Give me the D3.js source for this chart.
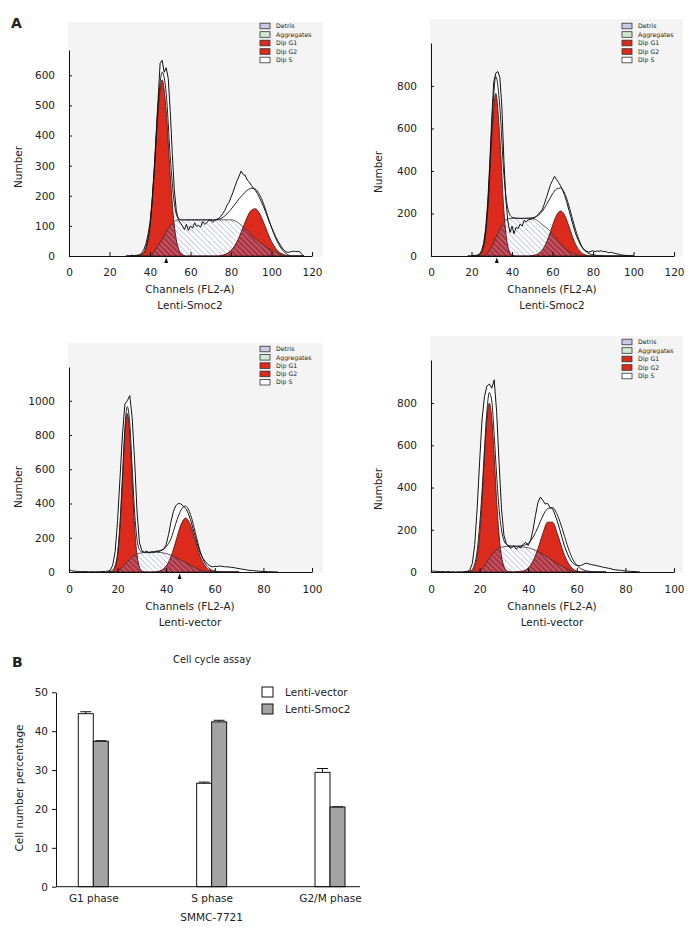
<!DOCTYPE html>
<html><head><meta charset="utf-8">
<script src="https://cdn.jsdelivr.net/npm/d3@7"></script>
<style>
body{margin:0;background:#fff}
svg{display:block}
text{font-family:"DejaVu Sans",Verdana,sans-serif;fill:#222}
</style>
</head><body>
<svg id="c" width="700" height="935"></svg>
<script>
// ---------------- DATA ----------------
const legendNames = ["Detris","Aggregates","Dip G1","Dip G2","Dip S"];
const xTicks120 = [0,20,40,60,80,100,120];
const xTicks100 = [0,20,40,60,80,100];
const p1YTicks = [0,100,200,300,400,500,600];
const p2YTicks = [0,200,400,600,800];
const p3YTicks = [0,200,400,600,800,1000];
const p4YTicks = [0,200,400,600,800];
const subLabels = ["Lenti-Smoc2","Lenti-Smoc2","Lenti-vector","Lenti-vector"];
const markerCh = [48, 32.5, 45.5, null];

// Panel 1 (top-left)
const p1Ch  = [30,32,34,36,38,40,42,44,46,48,50,52,54,56,58,60,62,64,66,68,70,72,74,76,78,80,82,84,86,88,90,92,94,96,98,100,102,104,106,108,110,112,114,116];
const p1G1  = [0,0,0,5,26,101,268,481,585,481,268,101,26,5,0,0,0,0,0,0,0,0,0,0,0,0,0,0,0,0,0,0,0,0,0,0,0,0,0,0,0,0,0,0];
const p1G2  = [0,0,0,0,0,0,0,0,0,0,0,0,0,0,0,0,0,0,0,0,0,0,0,3,8,18,36,62,96,129,152,157,143,113,79,48,26,12,5,1,0,0,0,0];
const p1S   = [0,0,0,0,0,0,15,35,55,80,100,115,120,120,120,120,120,120,120,120,120,120,120,120,120,120,117,108,96,85,70,58,46,36,27,19,12,6,2,0,0,0,0,0];
const p1Fit = [0,0,0,5,28,100,275,500,610,540,330,175,125,120,120,120,120,120,120,120,120,120,122,128,140,155,172,190,205,218,225,222,205,175,135,95,60,33,15,5,0,0,0,0];
const p1Data = [[28,0],[29,2],[30,0],[31,3],[32,0],[33,2],[34,3],[35,5],[36,10],[37,22],[38,40],[39,70],[40,110],[41,180],[42,280],[43,400],[44,520],[45,640],[46,650],[47,610],[48,625],[49,590],[50,480],[51,340],[52,220],[53,150],[54,120],[55,110],[56,100],[57,88],[58,105],[59,85],[60,100],[61,92],[62,110],[63,98],[64,102],[65,96],[66,115],[67,105],[68,110],[69,118],[70,120],[71,112],[72,118],[73,122],[74,125],[75,132],[76,142],[77,152],[78,168],[79,178],[80,195],[81,212],[82,232],[83,250],[84,265],[85,282],[86,270],[87,268],[88,252],[89,246],[90,235],[91,226],[92,218],[93,208],[94,195],[95,180],[96,165],[97,148],[98,130],[99,112],[100,95],[101,80],[102,65],[103,52],[104,40],[105,30],[106,20],[107,15],[108,12],[109,13],[110,15],[111,16],[112,15],[113,15],[114,14],[115,5],[116,0]];

// Panel 2 (top-right)
const p2Ch  = [20,22,24,26,28,30,32,34,36,38,40,42,44,46,48,50,52,54,56,58,60,62,64,66,68,70,72,74,76,78,80,82,84,86,88,90,92,94,96,98,100];
const p2G1  = [0,0,5,43,213,555,765,555,213,43,5,0,0,0,0,0,0,0,0,0,0,0,0,0,0,0,0,0,0,0,0,0,0,0,0,0,0,0,0,0,0];
const p2G2  = [0,0,0,0,0,0,0,0,0,0,0,0,0,0,0,2,6,18,44,87,143,192,212,192,143,87,44,18,6,2,0,0,0,0,0,0,0,0,0,0,0];
const p2S   = [0,0,0,0,15,45,85,125,160,175,177,177,177,177,177,176,170,155,140,125,105,80,58,38,22,12,5,1,0,0,0,0,0,0,0,0,0,0,0,0,0];
const p2Fit = [0,0,5,50,230,600,845,700,380,220,182,178,177,177,178,180,185,200,225,258,292,315,320,295,240,170,105,55,25,12,6,3,2,0,0,0,0,0,0,0,0];
const p2Data = [[18,0],[19,2],[20,0],[21,3],[22,2],[23,5],[24,10],[25,25],[26,60],[27,130],[28,250],[29,430],[30,650],[31,820],[32,860],[33,868],[34,840],[35,700],[36,450],[37,260],[38,160],[39,110],[40,140],[41,105],[42,135],[43,128],[44,150],[45,140],[46,168],[47,160],[48,170],[49,172],[50,175],[51,178],[52,188],[53,195],[54,208],[55,220],[56,245],[57,275],[58,305],[59,335],[60,355],[61,375],[62,360],[63,345],[64,330],[65,310],[66,285],[67,255],[68,220],[69,185],[70,150],[71,118],[72,90],[73,68],[74,50],[75,35],[76,28],[77,22],[78,18],[79,22],[80,25],[81,20],[82,24],[83,22],[84,25],[85,20],[86,22],[87,18],[88,15],[89,18],[90,14],[91,12],[92,10],[93,8],[94,5],[95,4],[96,3],[98,1],[100,0]];

// Panel 3 (bottom-left)
const p3Ch  = [16,17,18,19,20,21,22,23,24,25,26,27,28,29,30,31,32,34,36,38,40,42,44,46,48,50,52,54,56,58,60,62,64,66,68,70];
const p3G1  = [0,1,6,29,100,265,531,805,925,805,531,265,100,29,6,1,0,0,0,0,0,0,0,0,0,0,0,0,0,0,0,0,0,0,0,0];
const p3G2  = [0,0,0,0,0,0,0,0,0,0,0,0,0,0,0,0,0,0,2,10,35,91,181,274,315,274,181,91,35,10,2,0,0,0,0,0];
const p3S   = [0,0,0,0,5,15,30,45,60,75,88,98,105,110,112,113,114,115,115,113,108,98,85,70,55,40,25,12,4,0,0,0,0,0,0,0];
const p3Fit = [0,3,12,38,110,290,560,840,965,870,610,350,190,130,118,115,115,116,120,128,148,195,285,360,385,335,230,120,50,18,6,2,0,0,0,0];
const p3Data = [[0,15],[1,8],[2,5],[3,4],[4,3],[5,2],[6,3],[7,2],[8,2],[9,1],[10,2],[11,1],[12,2],[13,2],[14,3],[15,3],[16,5],[17,10],[18,40],[19,120],[20,300],[21,550],[22,800],[23,980],[24,1000],[25,1030],[26,900],[27,650],[28,350],[29,170],[30,125],[31,115],[32,122],[33,110],[34,118],[35,115],[36,122],[37,120],[38,126],[39,132],[40,160],[41,220],[42,295],[43,355],[44,388],[45,400],[46,398],[47,385],[48,372],[49,345],[50,305],[51,255],[52,205],[53,155],[54,112],[55,82],[56,62],[57,46],[58,36],[59,30],[60,33],[61,32],[62,35],[63,33],[64,30],[65,31],[66,28],[67,27],[68,25],[69,22],[70,20],[71,17],[72,15],[73,12],[74,10],[75,9],[76,8],[77,6],[78,5],[79,4],[80,3],[82,2],[84,1],[86,0]];

// Panel 4 (bottom-right)
const p4Ch  = [14,15,16,17,18,19,20,21,22,23,24,25,26,27,28,29,30,31,32,34,36,38,40,42,44,46,48,50,52,54,56,58,60,62,64,66,68,70,72];
const p4G1  = [0,0,2,8,27,75,177,342,549,728,800,728,549,342,177,75,27,8,2,0,0,0,0,0,0,0,0,0,0,0,0,0,0,0,0,0,0,0,0];
const p4G2  = [0,0,0,0,0,0,0,0,0,0,0,0,0,0,0,0,0,0,0,0,2,5,19,52,110,182,236,236,182,110,52,19,5,1,0,0,0,0,0];
const p4S   = [0,0,0,0,0,0,5,15,30,48,65,80,95,106,115,118,120,121,121,121,120,118,115,108,98,85,70,55,40,26,14,5,0,0,0,0,0,0,0];
const p4Fit = [0,1,4,12,40,100,220,380,580,760,850,810,650,460,300,200,150,130,125,122,123,126,136,165,212,265,300,305,270,205,130,68,32,14,5,2,0,0,0];
const p4Data = [[0,5],[1,4],[2,3],[3,3],[4,2],[5,2],[6,1],[7,2],[8,1],[9,1],[10,0],[11,1],[12,1],[13,1],[14,2],[15,3],[16,10],[17,40],[18,130],[19,300],[20,520],[21,720],[22,830],[23,880],[24,890],[25,870],[26,910],[27,760],[28,520],[29,300],[30,175],[31,135],[32,120],[33,112],[34,125],[35,108],[36,118],[37,115],[38,132],[39,140],[40,125],[41,150],[42,200],[43,268],[44,328],[45,355],[46,340],[47,322],[48,325],[49,305],[50,300],[51,272],[52,240],[53,200],[54,160],[55,120],[56,90],[57,65],[58,46],[59,36],[60,32],[61,30],[62,32],[63,38],[64,42],[65,38],[66,35],[67,33],[68,30],[69,28],[70,25],[71,22],[72,20],[73,18],[74,15],[75,12],[76,10],[77,9],[78,8],[79,6],[80,5],[82,3],[84,2],[86,0]];

// Bar chart (B)
const phases = ["G1 phase","S phase","G2/M phase"];
const seriesNames = ["Lenti-vector","Lenti-Smoc2"];
const vectorVals = [44.5, 26.6, 29.4];
const vectorErr  = [0.5, 0.3, 1.0];
const smocVals   = [37.4, 42.4, 20.5];
const smocErr    = [0.15, 0.4, 0.05];
const barYTicks  = [0,10,20,30,40,50];

// ---------------- LAYOUT / STYLE ----------------
const RED = "#dc2a1c";
const RED_OVER = "#b8343c";
const legendFills = ["#cacae6","#d2e8d0",RED,RED,"#ffffff"];
const LAYOUT = [
 {x0:69,x1:312,y0:256,yTop:50,yMax:684,bg:[68,22,323,257],legX:260,legY:26,legDy:8.5,labX:190,tickB:276,chB:293,subB:309,numX:18,numY:167},
 {x0:431,x1:674,y0:256,yTop:43,yMax:1002,bg:[430,19,683,257],legX:622,legY:26,legDy:8.5,labX:552,tickB:276,chB:293,subB:309,numX:378,numY:172},
 {x0:69,x1:312,y0:572,yTop:367,yMax:1197,bg:[68,343,323,573],legX:260,legY:349,legDy:8.3,labX:190,tickB:593,chB:610,subB:626,numX:18,numY:487},
 {x0:431,x1:674,y0:572,yTop:360,yMax:1004,bg:[430,336,683,573],legX:622,legY:342,legDy:8.5,labX:552,tickB:593,chB:610,subB:626,numX:378,numY:489}
];

const svg = d3.select("#c");
const defs = svg.append("defs");
const pat = defs.append("pattern").attr("id","hatch").attr("patternUnits","userSpaceOnUse").attr("width",5.5).attr("height",5.5);
pat.append("path").attr("d","M-1,-1 L6.5,6.5 M-1,4.5 L1,6.5 M4.5,-1 L6.5,1").attr("stroke","#a2a2d2").attr("stroke-width",0.8);

function drawPanel(idx, L, ch, g1, g2, sS, fit, data, xT, yT, mark, sub) {
  const g = svg.append("g");
  const x = d3.scaleLinear().domain([0, xT[xT.length-1]]).range([L.x0, L.x1]);
  const y = d3.scaleLinear().domain([0, L.yMax]).range([L.y0, L.yTop]);
  g.append("rect").attr("x",L.bg[0]).attr("y",L.bg[1]).attr("width",L.bg[2]-L.bg[0]).attr("height",L.bg[3]-L.bg[1]).attr("fill","#f4f4f4");
  const pts = v => ch.map((c,i)=>[c, v[i]]);
  const aM = d3.area().x(d=>x(d[0])).y0(L.y0).y1(d=>y(d[1])).curve(d3.curveMonotoneX);
  const lM = d3.line().x(d=>x(d[0])).y(d=>y(d[1])).curve(d3.curveMonotoneX);
  const aD = d3.area().x(d=>x(d[0])).y0(L.y0).y1(d=>y(d[1]));
  const lD = d3.line().x(d=>x(d[0])).y(d=>y(d[1]));
  const sPath = aM(pts(sS));
  defs.append("clipPath").attr("id","sclip"+idx).append("path").attr("d", sPath);

  g.append("path").attr("d", aD(data)).attr("fill","#fff");
  g.append("path").attr("d", aM(pts(fit))).attr("fill","#fff");
  g.append("path").attr("d", sPath).attr("fill","#fff");
  [g1,g2].forEach(v => g.append("path").attr("d", aM(pts(v))).attr("fill",RED));
  [g1,g2].forEach(v => g.append("path").attr("d", aM(pts(v))).attr("fill",RED_OVER).attr("clip-path",`url(#sclip${idx})`));
  g.append("path").attr("d", sPath).attr("fill","url(#hatch)");
  [g1,g2].forEach(v => g.append("path").attr("d", lM(pts(v))).attr("fill","none").attr("stroke","#3a1010").attr("stroke-width",0.8));
  g.append("path").attr("d", lM(pts(sS))).attr("fill","none").attr("stroke","#333").attr("stroke-width",0.8);
  g.append("path").attr("d", lM(pts(fit))).attr("fill","none").attr("stroke","#222").attr("stroke-width",1);
  g.append("path").attr("d", lD(data)).attr("fill","none").attr("stroke","#111").attr("stroke-width",1);

  // axes
  const xa = g.append("g").attr("transform",`translate(0,${L.y0})`)
    .call(d3.axisBottom(x).tickValues(xT).tickSize(-4).tickSizeOuter(0).tickFormat(d3.format("d")));
  xa.selectAll("text").attr("y", L.tickB - L.y0).attr("dy", 0).style("font-size","10.5px").style("font-family","DejaVu Sans");
  const ya = g.append("g").attr("transform",`translate(${L.x0},0)`)
    .call(d3.axisLeft(y).tickValues(yT).tickSize(-3).tickSizeOuter(0).tickPadding(14).tickFormat(d3.format("d")));
  ya.selectAll("text").style("font-size","10.5px").style("font-family","DejaVu Sans");
  [xa,ya].forEach(a => { a.select(".domain").attr("stroke","#111"); a.selectAll(".tick line").attr("stroke","#111"); a.selectAll("text").attr("fill","#222"); });

  // legend
  legendNames.forEach((n,i) => {
    const ry = L.legY + i*L.legDy;
    g.append("rect").attr("x",L.legX).attr("y",ry-2.8).attr("width",10).attr("height",5.6)
      .attr("fill",legendFills[i]).attr("stroke","#333").attr("stroke-width",0.8);
    g.append("text").attr("x",L.legX+16).attr("y",ry+2.2).style("font-size","6.2px").text(n);
  });

  // peak marker
  if (mark !== null) {
    const mx = x(mark);
    g.append("path").attr("d",`M${mx-2},${L.y0+7} L${mx},${L.y0+1.5} L${mx+2},${L.y0+7} Z`).attr("fill","#111");
  }

  g.append("text").attr("x",L.labX).attr("y",L.chB).attr("text-anchor","middle").style("font-size","10.5px").text("Channels (FL2-A)");
  g.append("text").attr("x",L.labX).attr("y",L.subB).attr("text-anchor","middle").style("font-size","10.5px").text(sub);
  g.append("text").attr("transform",`translate(${L.numX+4},${L.numY}) rotate(-90)`).attr("text-anchor","middle").style("font-size","10.5px").text("Number");
}

drawPanel(0, LAYOUT[0], p1Ch, p1G1, p1G2, p1S, p1Fit, p1Data, xTicks120, p1YTicks, markerCh[0], subLabels[0]);
drawPanel(1, LAYOUT[1], p2Ch, p2G1, p2G2, p2S, p2Fit, p2Data, xTicks120, p2YTicks, markerCh[1], subLabels[1]);
drawPanel(2, LAYOUT[2], p3Ch, p3G1, p3G2, p3S, p3Fit, p3Data, xTicks100, p3YTicks, markerCh[2], subLabels[2]);
drawPanel(3, LAYOUT[3], p4Ch, p4G1, p4G2, p4S, p4Fit, p4Data, xTicks100, p4YTicks, markerCh[3], subLabels[3]);

svg.append("text").attr("x",11).attr("y",28).style("font-size","14px").style("font-weight","bold").attr("fill","#111").text("A");
svg.append("text").attr("x",12).attr("y",667).style("font-size","14px").style("font-weight","bold").attr("fill","#111").text("B");

// ---------------- BAR CHART ----------------
const B = {x0:56, x1:360, y0:886.7, y1:692.3, bw:15};
const yb = d3.scaleLinear().domain([0,50]).range([B.y0, B.y1]);
const xb = d3.scalePoint().domain(phases).range([93.3, 330]);
const gb = svg.append("g");
gb.append("text").attr("x",212).attr("y",663).attr("text-anchor","middle").style("font-size","9.8px").text("Cell cycle assay");

const bars = [
  {vals:vectorVals, err:vectorErr, fill:"#ffffff", off:-B.bw},
  {vals:smocVals, err:smocErr, fill:"#a3a3a3", off:0}
];
bars.forEach(s => {
  phases.forEach((p,i) => {
    const bx = xb(p) + s.off, v = s.vals[i], e = s.err[i], cx = bx + B.bw/2;
    gb.append("rect").attr("x",bx).attr("y",yb(v)).attr("width",B.bw).attr("height",yb(0)-yb(v))
      .attr("fill",s.fill).attr("stroke","#111").attr("stroke-width",1);
    gb.append("line").attr("x1",cx).attr("x2",cx).attr("y1",yb(v)).attr("y2",yb(v+e)).attr("stroke","#111");
    gb.append("line").attr("x1",cx-5.5).attr("x2",cx+5.5).attr("y1",yb(v+e)).attr("y2",yb(v+e)).attr("stroke","#111");
  });
});

const yba = gb.append("g").attr("transform",`translate(${B.x0},0)`)
  .call(d3.axisLeft(yb).tickValues(barYTicks).tickSize(4).tickSizeOuter(0).tickPadding(4));
yba.selectAll("text").style("font-size","10.5px").style("font-family","DejaVu Sans").attr("fill","#222");
yba.select(".domain").attr("stroke","#111");
yba.selectAll(".tick line").attr("stroke","#111");
gb.append("line").attr("x1",B.x0).attr("x2",B.x1).attr("y1",B.y0).attr("y2",B.y0).attr("stroke","#111");
const xba = gb.append("g").attr("transform",`translate(0,${B.y0})`).call(d3.axisBottom(xb).tickSize(0));
xba.select(".domain").remove();
xba.selectAll("text").attr("y", 902-B.y0).attr("dy",0).style("font-size","10.5px").style("font-family","DejaVu Sans").attr("fill","#222");
gb.append("text").attr("x",xb(phases[1])).attr("y",921).attr("text-anchor","middle").style("font-size","10.5px").text("SMMC-7721");
gb.append("text").attr("transform","translate(23,788) rotate(-90)").attr("text-anchor","middle").style("font-size","10.5px").text("Cell number percentage");

// legend
const legFill = ["#ffffff","#a3a3a3"];
seriesNames.forEach((n,i) => {
  const ly = 687 + i*17;
  gb.append("rect").attr("x",262).attr("y",ly).attr("width",11).attr("height",10).attr("fill",legFill[i]).attr("stroke","#111");
  gb.append("text").attr("x",285).attr("y",ly+9).style("font-size","10.5px").text(n);
});
</script>
</body></html>
